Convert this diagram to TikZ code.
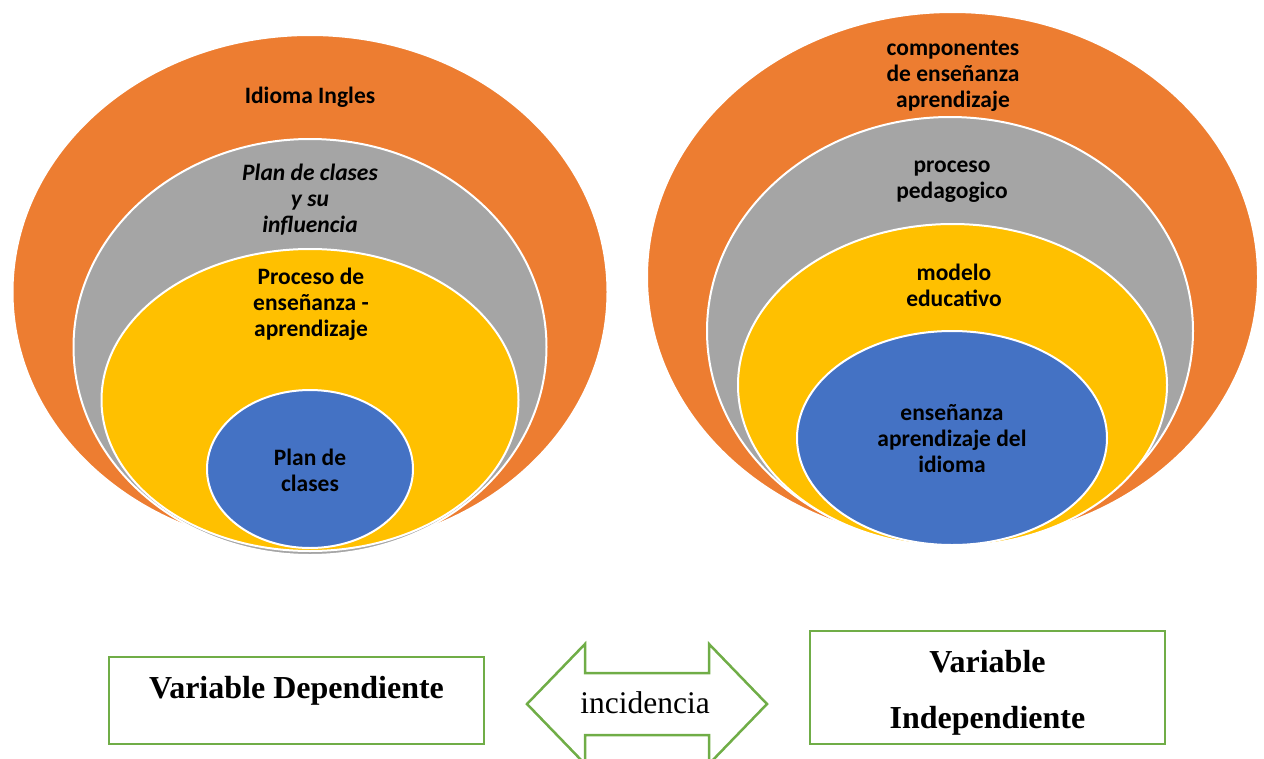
\documentclass[tikz,border=0pt]{standalone}
\usepackage{fontspec}
\setmainfont{Liberation Serif}
\newfontfamily\calfont{Carlito}
\usetikzlibrary{shapes.geometric}
\definecolor{corange}{HTML}{ED7D31}
\definecolor{cgray}{HTML}{A5A5A5}
\definecolor{cyellow}{HTML}{FFC000}
\definecolor{cblue}{HTML}{4472C4}
\definecolor{cgreen}{HTML}{70AD47}
\tikzset{
  ring/.style={ellipse, draw=white, line width=2pt, inner sep=0pt, outer sep=0pt},
  lbl/.style={align=center, text=black, font=\calfont\bfseries\fontsize{23.5}{26}\selectfont},
  varbox/.style={draw=cgreen, line width=2.5pt, fill=white, inner sep=0pt},
  vartext/.style={align=center, font=\bfseries\fontsize{32}{56}\selectfont},
}
\begin{document}
\begin{tikzpicture}[x=1pt,y=-1pt]
\useasboundingbox (0,0) rectangle (1264,758);
% left set
\node[ring, fill=corange, minimum width=595pt, minimum height=514pt] (lo) at (310,292) {};
\node[ring, fill=cgray, minimum width=473pt, minimum height=416pt] (lg) at (310,347) {};
\node[ring, fill=cyellow, minimum width=417pt, minimum height=302pt] (ly) at (310,400) {};
\node[ring, fill=cblue, minimum width=206pt, minimum height=158pt] (lb) at (310,469) {};
\node[lbl] (lot) at (310,97) {Idioma Ingles};
\node[lbl, font=\calfont\bfseries\itshape\fontsize{23.5}{26}\selectfont] (lgt) at (310,200) {Plan de clases\\y su\\influencia};
\node[lbl] (lyt) at (311,304) {Proceso de\\enseñanza -\\aprendizaje};
\node[lbl] (lbt) at (310,470) {Plan de\\clases};
% right set
\node[ring, fill=corange, minimum width=611pt, minimum height=530pt] (ro) at (952.5,277) {};
\node[ring, fill=cgray, minimum width=486pt, minimum height=428pt] (rg) at (950,331) {};
\node[ring, fill=cyellow, minimum width=429pt, minimum height=322pt] (ry) at (952.5,385) {};
\node[ring, fill=cblue, minimum width=310pt, minimum height=214pt] (rb) at (952,438) {};
\node[lbl] (rot) at (953,76) {componentes\\de enseñanza\\aprendizaje};
\node[lbl] (rgt) at (952,182) {proceso\\pedagogico};
\node[lbl] (ryt) at (954,285) {modelo\\educativo};
\node[lbl] (rbt) at (952,439) {enseñanza\\aprendizaje del\\idioma};
% bottom
\node[varbox, minimum width=375pt, minimum height=87pt] (vd) at (296.5,700.5) {};
\node[vartext] (vdt) at ([yshift=10pt]vd.center) {Variable Dependiente};
\node[varbox, minimum width=355pt, minimum height=113pt] (vi) at (987.5,687.5) {};
\node[vartext] (vit) at ([yshift=-5pt]vi.center) {Variable\\Independiente};
\draw[cgreen, line width=2.5pt, line join=miter]
  (527,704) -- (585,644) -- (585,673) -- (709,673) -- (709,644) -- (767,704)
  -- (709,764) -- (709,735) -- (585,735) -- (585,764) -- cycle;
\node[font=\fontsize{31.5}{36}\selectfont] (inc) at (645,703) {incidencia};
\end{tikzpicture}
\end{document}
